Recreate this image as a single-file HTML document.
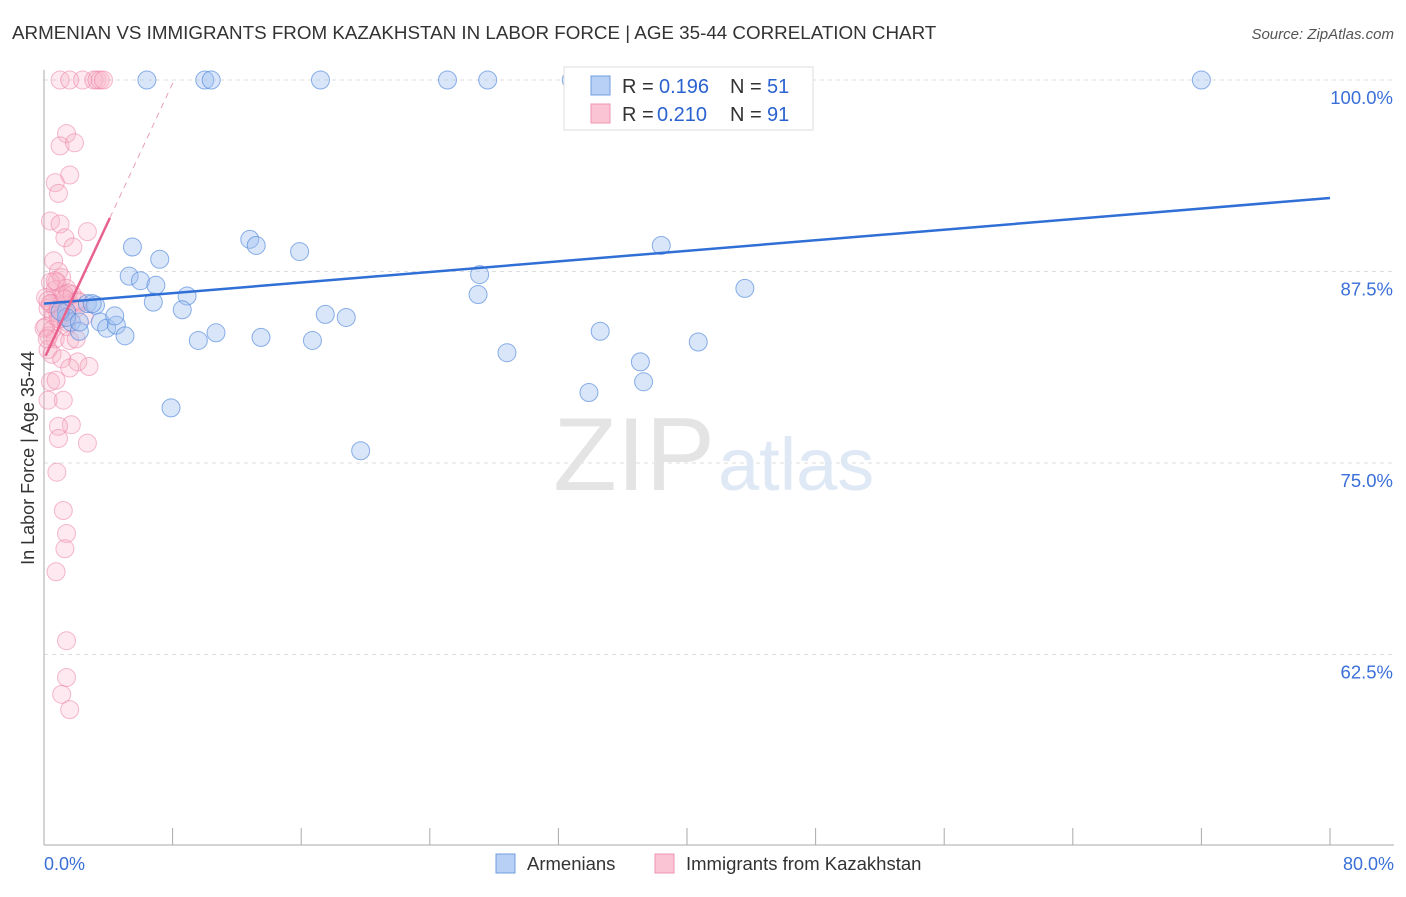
<!DOCTYPE html>
<html><head><meta charset="utf-8"><style>
body{margin:0;background:#fff;font-family:"Liberation Sans",sans-serif}
svg text{font-family:"Liberation Sans",sans-serif}
</style></head><body>
<svg width="1406" height="892" viewBox="0 0 1406 892">
<text x="12" y="39" font-size="18.8" fill="#333">ARMENIAN VS IMMIGRANTS FROM KAZAKHSTAN IN LABOR FORCE | AGE 35-44 CORRELATION CHART</text>
<text x="1394" y="39" font-size="15" fill="#555" text-anchor="end" font-style="italic">Source: ZipAtlas.com</text>
<g id="grid"></g>
<text x="715" y="490" font-size="104" fill="#e4e4e4" text-anchor="end" font-family="Liberation Serif">ZIP</text>
<text x="718" y="490" font-size="74" fill="#dfe8f5">atlas</text>
<line x1="44" y1="70" x2="44" y2="845" stroke="#aaa"/>
<line x1="44" y1="845" x2="1394" y2="845" stroke="#aaa"/>
<g id="ticks"></g>
<text x="44" y="870" font-size="18" fill="#3a6fd8">0.0%</text>
<text x="1394" y="870" font-size="18" fill="#3a6fd8" text-anchor="end">80.0%</text>
<text transform="translate(34,458) rotate(-90)" font-size="18" fill="#333" text-anchor="middle">In Labor Force | Age 35-44</text>
<g id="pts"></g>
<g id="lines"></g>
<g>
<rect x="564" y="67" width="249" height="63" fill="#fff" stroke="#ddd"/>
<rect x="591" y="76" width="19" height="19" fill="#b8d0f5" stroke="#6f9ee0"/>
<rect x="591" y="104" width="19" height="19" fill="#fbc4d4" stroke="#ef94b0"/>
<text x="622" y="93" font-size="20" fill="#333">R = </text><text x="659" y="93" font-size="20" fill="#2a62cf">0.196</text>
<text x="730" y="93" font-size="20" fill="#333">N = </text><text x="767" y="93" font-size="20" fill="#2a62cf">51</text>
<text x="622" y="121" font-size="20" fill="#333">R = </text><text x="657" y="121" font-size="20" fill="#2a62cf">0.210</text>
<text x="730" y="121" font-size="20" fill="#333">N = </text><text x="767" y="121" font-size="20" fill="#2a62cf">91</text>
</g>
<g>
<rect x="496" y="854" width="19" height="19" fill="#b8d0f5" stroke="#6f9ee0"/>
<text x="527" y="870" font-size="18.5" fill="#333">Armenians</text>
<rect x="655" y="854" width="19" height="19" fill="#fbc4d4" stroke="#ef94b0"/>
<text x="686" y="870" font-size="18.5" fill="#333">Immigrants from Kazakhstan</text>
</g>
</svg>
<script>
const yTicks=[100,87.5,75,62.5];
const xTicks=[0,8,16,24,32,40,48,56,64,72,80];
const blueX=[6.4,10,10.4,17.2,25.1,27.6,32.8,72,5.5,7.2,12.8,13.2,15.9,38.4,5.3,6,6.96,6.8,8.9,8.6,2.7,3.2,1.4,1.7,3.5,3.9,4.5,4.4,5.04,2.2,10.7,9.6,13.5,16.7,17.5,18.8,27.1,27,28.8,34.6,37.1,37.3,40.7,43.6,33.9,7.9,19.7,1.4,2.2,1,3];
const blueY=[100,100,100,100,100,100,100,100,89.1,88.3,89.6,89.2,88.8,89.2,87.2,86.9,86.6,85.5,85.9,85,85.4,85.3,84.9,84.2,84.2,83.8,84,84.6,83.3,83.6,83.5,83,83.2,83,84.7,84.5,87.3,86,82.2,83.6,81.6,80.3,82.9,86.4,79.6,78.6,75.8,84.5,84.2,84.9,85.4];
const pinkX=[1,1.6,2.4,3.1,3.3,3.5,3.7,1.4,1,1.9,1.6,0.7,0.9,0.4,1,1.3,1.8,2.7,0.6,0.9,1.1,0.4,0.7,1.1,0.5,0.25,0.8,1.2,1.6,0.6,1,0.1,0.5,1.4,2,2.5,0.3,0.7,1.6,2,0.25,0.5,1.1,2.1,2.8,1.6,0.4,0.75,1.2,0.25,1.7,0.9,0.9,2.7,0.8,1.2,1.4,1.3,0.75,1.4,1.4,1.1,1.6,0.8,1.4,1.5,0.1,0.25,0.4,1.25,1.75,2.1,0.9,0,0.2,0.9,1.4,2.2,0.7,1.3];
const pinkY=[100,100,100,100,100,100,100,96.5,95.7,95.9,93.8,93.3,92.6,90.8,90.6,89.7,89.1,90.1,88.2,87.5,87.1,86.8,86.3,85.9,85.4,85.1,84.9,84.8,85.4,84.6,84.4,83.9,83.7,83.9,85.1,84.6,83.3,83.1,83,83.1,82.4,82.1,81.8,81.6,81.3,81.2,80.3,80.4,79.1,79.1,77.5,77.4,76.6,76.3,74.4,71.9,70.4,69.4,67.9,63.4,61,59.9,58.9,86.8,86.4,86.1,85.8,85.6,85.4,86,86,85.6,85,83.8,83.1,84.4,84.2,85.5,86.9,85.7];
const X=v=>44+v*16.075, Y=v=>80+(100-v)*15.32;
const ns="http://www.w3.org/2000/svg";
function mk(t,a,p){const e=document.createElementNS(ns,t);for(const k in a)e.setAttribute(k,a[k]);p.appendChild(e);return e;}
const grid=document.getElementById('grid');
yTicks.forEach(v=>{
 const l=mk('line',{x1:44,x2:1394,y1:Y(v),y2:Y(v),stroke:'#ddd','stroke-dasharray':'4,4'},grid);
 
 
 const t=mk('text',{x:1393,y:Y(v)+24,'font-size':18.5,fill:'#3a6fd8','text-anchor':'end'},grid);
 t.textContent=v.toFixed(1)+'%';
 
 
});
const tk=document.getElementById('ticks');
xTicks.forEach(v=>{
 const l=mk('line',{x1:X(v),x2:X(v),y1:828,y2:845,stroke:'#aaa'},tk);
 
 
});
const pts=document.getElementById('pts');
pinkX.forEach((x,i)=>{
 const c=mk('circle',{cx:X(x),cy:Y(pinkY[i]),r:9,fill:'rgba(248,175,198,0.28)',stroke:'rgba(236,130,165,0.55)','stroke-width':1},pts);
 
 
});
blueX.forEach((x,i)=>{
 const c=mk('circle',{cx:X(x),cy:Y(blueY[i]),r:9,fill:'rgba(160,192,240,0.4)',stroke:'rgba(80,135,220,0.65)','stroke-width':1},pts);
 
 
});
const ln=document.getElementById('lines');
let e=mk('line',{x1:X(0),y1:Y(85.4),x2:X(80),y2:Y(92.3),stroke:'#2f6fd6','stroke-width':2.5},ln);


e=mk('line',{x1:X(0.1),y1:Y(82),x2:X(4.1),y2:Y(91),stroke:'#e8628f','stroke-width':2.5},ln);


e=mk('line',{x1:X(4.1),y1:Y(91),x2:X(8.1),y2:Y(100),stroke:'#e8a0b8','stroke-width':1,'stroke-dasharray':'6,5'},ln);


</script>
</body></html>
